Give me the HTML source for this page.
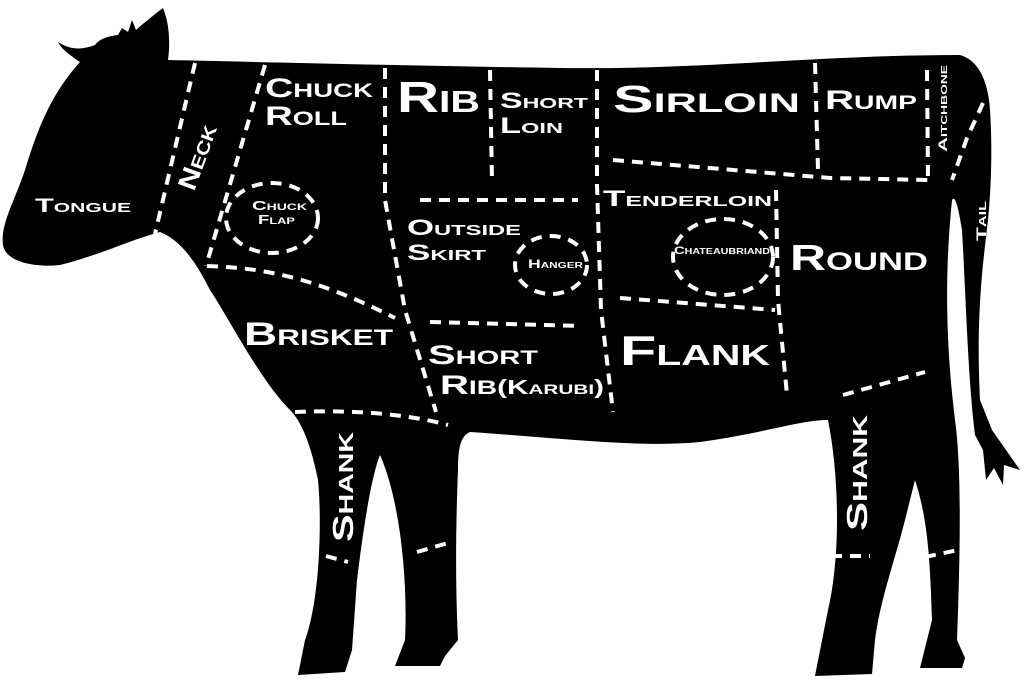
<!DOCTYPE html>
<html><head><meta charset="utf-8"><style>
html,body{margin:0;padding:0;background:#fff;}
svg{display:block;}
text{font-family:"Liberation Sans",sans-serif;font-weight:bold;fill:#fff;font-variant:small-caps;}
.d{fill:none;stroke:#fff;stroke-width:4;stroke-dasharray:11 8;}
</style></head><body>
<svg width="1024" height="683" viewBox="0 0 1024 683" xmlns="http://www.w3.org/2000/svg">
<path fill="#000" d="M58,42 C70,50 82,50 95,45 C100,38 110,36 118,35 L122,28 L128,32 L132,20 L136,30 C145,22 155,14 163,8 C170,25 170,45 168,60
C260,62 420,66 560,68 C700,70 820,55 960,55 C978,60 988,80 990,110 C992,140 992,180 988,220 C982,270 976,320 980,400 L992,430 L1020,470 L1004,465 L1003,485 L994,468 L986,480 L983,450 L975,435
C968,380 966,300 962,230 C958,205 955,195 952,200 C946,260 944,330 955,420 C962,470 960,560 957,640 L965,658 L962,668 L920,668 L932,620 C930,560 928,520 915,480 L905,520 C895,560 880,600 875,640 L872,674 L815,676 L828,610 C840,560 840,480 828,420 C800,420 770,432 700,442 C640,448 560,438 470,432 C460,436 458,450 458,470 C456,520 455,580 458,640 L445,656 L440,666 L395,666 L405,640 C408,580 400,500 380,455 C370,480 362,540 357,580 L352,650 L345,672 L298,675 L305,640 C320,600 322,520 318,480 C310,440 300,420 290,410
C260,380 230,320 210,290 C195,260 180,240 160,232 C130,240 100,255 60,265 C30,268 5,260 3,245 C0,225 15,200 25,170 C40,120 55,90 80,62 C70,55 62,50 58,42 Z"/>
<g class="d">
<path d="M195,63 L155,234"/>
<path d="M265,65 L206,266"/>
<path d="M207,266 C260,268 310,275 395,318"/>
<path d="M385,68 L385,200 L405,310 L436,412"/>
<path d="M490,70 L492,182"/>
<path d="M420,200 L578,200"/>
<path d="M597,70 L597,185 L601,310 L613,412"/>
<path d="M430,322 L582,326"/>
<path d="M613,160 L830,178 L930,180"/>
<path d="M815,63 L818,170"/>
<path d="M927,70 L928,178"/>
<path d="M983,103 L967,138 L952,180"/>
<path d="M620,298 L775,310"/>
<path d="M776,190 L778,300 L787,395"/>
<path d="M843,395 L925,372"/>
<path d="M295,412 C340,410 400,412 448,425"/>
<path d="M326,556 L348,562"/>
<path d="M417,552 L448,543"/>
<path d="M831,556 L870,556"/>
<path d="M925,557 L958,550"/>
<ellipse cx="272" cy="218" rx="46" ry="35"/>
<ellipse cx="551" cy="265" rx="36" ry="29"/>
<ellipse cx="723" cy="257" rx="50" ry="38"/>
</g>
<g lengthAdjust="spacingAndGlyphs">
<text x="35" y="212" font-size="19" textLength="96" lengthAdjust="spacingAndGlyphs">Tongue</text>
<text transform="translate(194,192) rotate(-70)" font-size="26" textLength="68" lengthAdjust="spacingAndGlyphs">Neck</text>
<text x="265" y="97" font-size="27" textLength="108" lengthAdjust="spacingAndGlyphs">Chuck</text>
<text x="265" y="125" font-size="27" textLength="82" lengthAdjust="spacingAndGlyphs">Roll</text>
<text x="397" y="112" font-size="44" textLength="83" lengthAdjust="spacingAndGlyphs">Rib</text>
<text x="500" y="108" font-size="22" textLength="88" lengthAdjust="spacingAndGlyphs">Short</text>
<text x="500" y="133" font-size="22" textLength="63" lengthAdjust="spacingAndGlyphs">Loin</text>
<text x="613" y="112" font-size="38" textLength="187" lengthAdjust="spacingAndGlyphs">Sirloin</text>
<text x="825" y="109" font-size="27" textLength="92" lengthAdjust="spacingAndGlyphs">Rump</text>
<text transform="translate(947,152) rotate(-90)" font-size="12" textLength="87" lengthAdjust="spacingAndGlyphs">Aitchbone</text>
<text transform="translate(986,241) rotate(-90)" font-size="14" textLength="40" lengthAdjust="spacingAndGlyphs">Tail</text>
<text x="252" y="210" font-size="13" textLength="55" lengthAdjust="spacingAndGlyphs">Chuck</text>
<text x="258" y="224" font-size="13" textLength="37" lengthAdjust="spacingAndGlyphs">Flap</text>
<text x="603" y="206" font-size="22" textLength="169" lengthAdjust="spacingAndGlyphs">Tenderloin</text>
<text x="407" y="235" font-size="22" textLength="114" lengthAdjust="spacingAndGlyphs">Outside</text>
<text x="407" y="260" font-size="22" textLength="79" lengthAdjust="spacingAndGlyphs">Skirt</text>
<text x="528" y="268" font-size="12" textLength="55" lengthAdjust="spacingAndGlyphs">Hanger</text>
<text x="674" y="254" font-size="11" textLength="96" lengthAdjust="spacingAndGlyphs">Chateaubriand</text>
<text x="790" y="270" font-size="36" textLength="138" lengthAdjust="spacingAndGlyphs">Round</text>
<text x="244" y="345" font-size="32" textLength="149" lengthAdjust="spacingAndGlyphs">Brisket</text>
<text x="428" y="364" font-size="27" textLength="110" lengthAdjust="spacingAndGlyphs">Short</text>
<text x="440" y="394" font-size="27" textLength="164" lengthAdjust="spacingAndGlyphs">Rib<tspan font-size="20">(Karubi)</tspan></text>
<text x="620" y="365" font-size="42" textLength="150" lengthAdjust="spacingAndGlyphs">Flank</text>
<text transform="translate(353,542) rotate(-90)" font-size="29" textLength="110" lengthAdjust="spacingAndGlyphs">Shank</text>
<text transform="translate(867,531) rotate(-90)" font-size="29" textLength="116" lengthAdjust="spacingAndGlyphs">Shank</text>
</g>
</svg>
</body></html>
